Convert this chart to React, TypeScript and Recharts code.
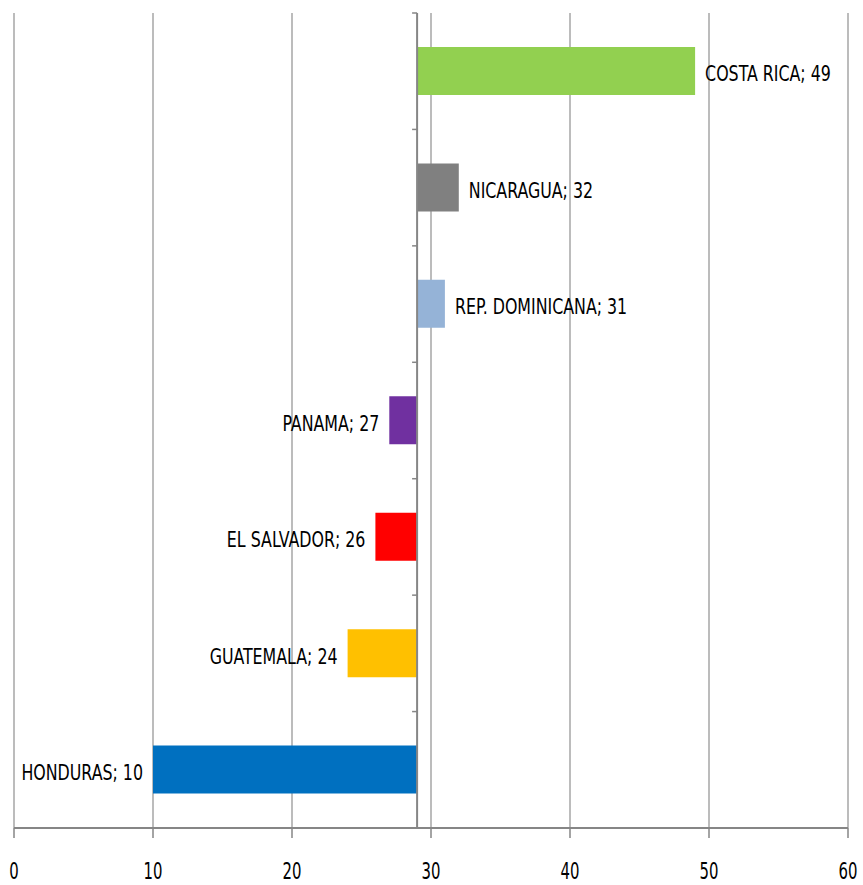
import React from 'react';
import { BarChart, Bar, XAxis, YAxis, CartesianGrid, ReferenceLine, LabelList, Cell } from 'recharts';

// paises de arriba hacia abajo
const countries = ['COSTA RICA', 'NICARAGUA', 'REP. DOMINICANA', 'PANAMA', 'EL SALVADOR', 'GUATEMALA', 'HONDURAS'];
const values = [49, 32, 31, 27, 26, 24, 10];
const colors = ['#92D050', '#808080', '#95B3D7', '#7030A0', '#FF0000', '#FFC000', '#0070C0'];
const xTicks = [0, 10, 20, 30, 40, 50, 60];
// el eje vertical cruza en 29
const crossAt = 29;

const data = countries.map((name, i) => ({ name, value: values[i] }));

const FONT = '"DejaVu Sans Condensed", "DejaVu Sans", sans-serif';
const AXIS = '#868686';
const GRID = '#a6a6a6';

// texto comprimido horizontalmente (parecido a Calibri)
const NarrowText = ({ x, y, anchor, size, sx, dy, children }: any) => (
  <text
    transform={`translate(${x},${y}) scale(${sx},1)`}
    x={0}
    y={0}
    dy={dy}
    textAnchor={anchor}
    fontSize={size}
    fontFamily={FONT}
    fill="#000"
  >
    {children}
  </text>
);

const renderLabel = (props: any) => {
  const { x, y, width, height, index } = props;
  const v = values[index];
  const left = Math.min(Number(x), Number(x) + Number(width));
  const right = Math.max(Number(x), Number(x) + Number(width));
  const cy = Number(y) + Number(height) / 2 + 2.5;
  const text = `${countries[index]}; ${v}`;
  if (v >= crossAt) {
    return <NarrowText x={right + 10} y={cy} anchor="start" size={22} sx={0.8} dy="0.36em">{text}</NarrowText>;
  }
  return <NarrowText x={left - 10} y={cy} anchor="end" size={22} sx={0.8} dy="0.36em">{text}</NarrowText>;
};

const XTick = (props: any) => {
  const { x, y, payload } = props;
  return <NarrowText x={x} y={y} anchor="middle" size={23} sx={0.72} dy="0.71em">{payload.value}</NarrowText>;
};

export default function App() {
  return (
    <div style={{ width: 863, height: 885, background: '#fff' }}>
      <style>{'body{margin:0}'}</style>
      <BarChart
        width={863}
        height={885}
        data={data}
        layout="vertical"
        margin={{ top: 13, right: 15, bottom: 0, left: 14 }}
        barSize={48}
      >
        <CartesianGrid horizontal={false} stroke={GRID} strokeWidth={1.5} />
        <XAxis
          type="number"
          domain={[0, 60]}
          ticks={xTicks}
          interval={0}
          height={57}
          tickSize={10}
          tickMargin={25}
          axisLine={{ stroke: AXIS, strokeWidth: 2 }}
          tickLine={{ stroke: AXIS, strokeWidth: 1.5 }}
          tick={<XTick />}
        />
        <YAxis yAxisId="cat" type="category" dataKey="name" hide />
        <Bar yAxisId="cat" dataKey={(d: any) => [crossAt, d.value]} isAnimationActive={false}>
          {data.map((d, i) => (
            <Cell key={d.name} fill={colors[i]} />
          ))}
          <LabelList content={renderLabel} />
        </Bar>
        <ReferenceLine yAxisId="cat" x={crossAt} stroke={AXIS} strokeWidth={2} />
        {countries.map((c) => (
          <ReferenceLine
            key={c}
            yAxisId="cat"
            position="start"
            segment={[{ x: crossAt - 0.36, y: c }, { x: crossAt, y: c }]}
            stroke={AXIS}
            strokeWidth={1.5}
          />
        ))}
      </BarChart>
    </div>
  );
}
